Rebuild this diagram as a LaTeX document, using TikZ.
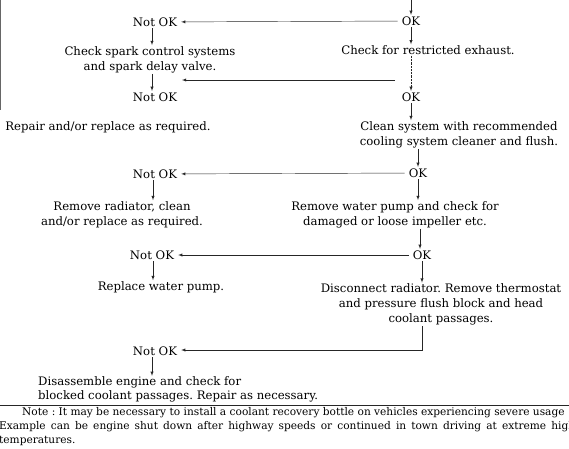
\documentclass[tikz,border=0pt]{standalone}
\usepackage{fontspec}
\setmainfont{DejaVu Serif}
\usepackage{tikz}
\usetikzlibrary{arrows,positioning,calc}
\frenchspacing

\begin{document}
\begin{tikzpicture}[
  x=1pt, y=-1pt,
  every node/.style={font=\fontsize{11.7}{15}\selectfont, inner sep=1pt},
  flow/.style={-latex, line width=0.45pt, black!85},
  wire/.style={line width=0.45pt, black!85},
  state/.style={inner xsep=4pt, inner ysep=1.5pt},
  action/.style={align=center, inner sep=1pt},
  notetext/.style={font=\fontsize{10.6}{14}\selectfont, anchor=west}
]
\clip (0,0) rectangle (569,448);

% States
\node[state] (ok1)  at (411,21)  {OK};
\node[state] (nok1) at (155,22)  {Not OK};
\node[state] (nok2) at (155,97)  {Not OK};
\node[state] (ok2)  at (411,97)  {OK};
\node[state] (ok3)  at (418,173) {OK};
\node[state] (nok3) at (155,174) {Not OK};
\node[state] (ok4)  at (422,255) {OK};
\node[state] (nok4) at (152,255) {Not OK};
\node[state] (nok5) at (155,351) {Not OK};

% Actions
\node[action] (spark)    at (150,59.5)  {Check spark control systems\\ and spark delay valve.};
\node[action] (exhaust)  at (428,50)    {Check for restricted exhaust.};
\node[action] (repair)   at (108,127)   {Repair and/or replace as required.};
\node[action] (clean)    at (459,134.5) {Clean system with recommended\\ cooling system cleaner and flush.};
\node[action] (radiator) at (122,214.5) {Remove radiator, clean\\ and/or replace as required.};
\node[action] (pump)     at (395,214.5) {Remove water pump and check for\\ damaged or loose impeller etc.};
\node[action] (replace)  at (161,287)   {Replace water pump.};
\node[action] (disc)     at (441,304.5) {Disconnect radiator. Remove thermostat\\ and pressure flush block and head\\ coolant passages.};
\node[action, align=left, anchor=west, font=\fontsize{11.7}{13.5}\selectfont] (disas) at (37,389.5)
  {Disassemble engine and check for\\ blocked coolant passages. Repair as necessary.};

% Free ends
\coordinate (entry) at (411,0);
\coordinate (exhno) at (395,80);
\coordinate (sparkin) at (182,80);
\coordinate (disclow) at (422,350);

% Connectors
\draw[flow] (entry) -- (ok1);
\draw[flow] (ok1) -- (nok1);
\draw[flow] (nok1.south -| 152,0) -- (spark.north -| 152,0);
\draw[flow] (spark.south -| 152,0) -- (nok2.north -| 152,0);
\draw[flow] (ok1) -- (exhaust.north -| ok1);
\draw[flow, densely dotted] (exhaust.south -| ok2) -- (ok2);
\draw[flow] (exhno) -- (sparkin);
\draw[flow] (ok2) -- (clean.north -| ok2);
\draw[flow] (clean.south -| ok3) -- (ok3);
\draw[flow] (ok3) -- (nok3);
\draw[flow] (nok3.south -| 153,0) -- (radiator.north -| 153,0);
\draw[flow] (ok3) -- (pump.north -| ok3);
\draw[flow] (pump.south -| 420,0) -- (ok4.north -| 420,0);
\draw[flow] (ok4) -- (nok4);
\draw[flow] (nok4.south -| 153,0) -- (replace.north -| 153,0);
\draw[flow] (ok4) -- (disc.north -| ok4);
\draw[flow] (disc.south -| disclow) -- (disclow) -- (nok5.east |- disclow);
\draw[flow] (nok5.south -| 152,0) -- (disas.north -| 152,0);

% Note
\draw[wire] (0,405) -- (569,405);
\node[notetext] (note1) at (21,413) {Note : It may be necessary to install a coolant recovery bottle on vehicles experiencing severe usage};
\node[notetext] (note2) at (-2,427) {\makebox[576pt][s]{Example can be engine shut down after highway speeds or continued in town driving at extreme high}};
\node[notetext] (note3) at (-2,441) {temperatures.};

% Scan edge
\draw[line width=1.4pt, black!60] (0.7,0) -- (0.7,110);
\end{tikzpicture}
\end{document}
